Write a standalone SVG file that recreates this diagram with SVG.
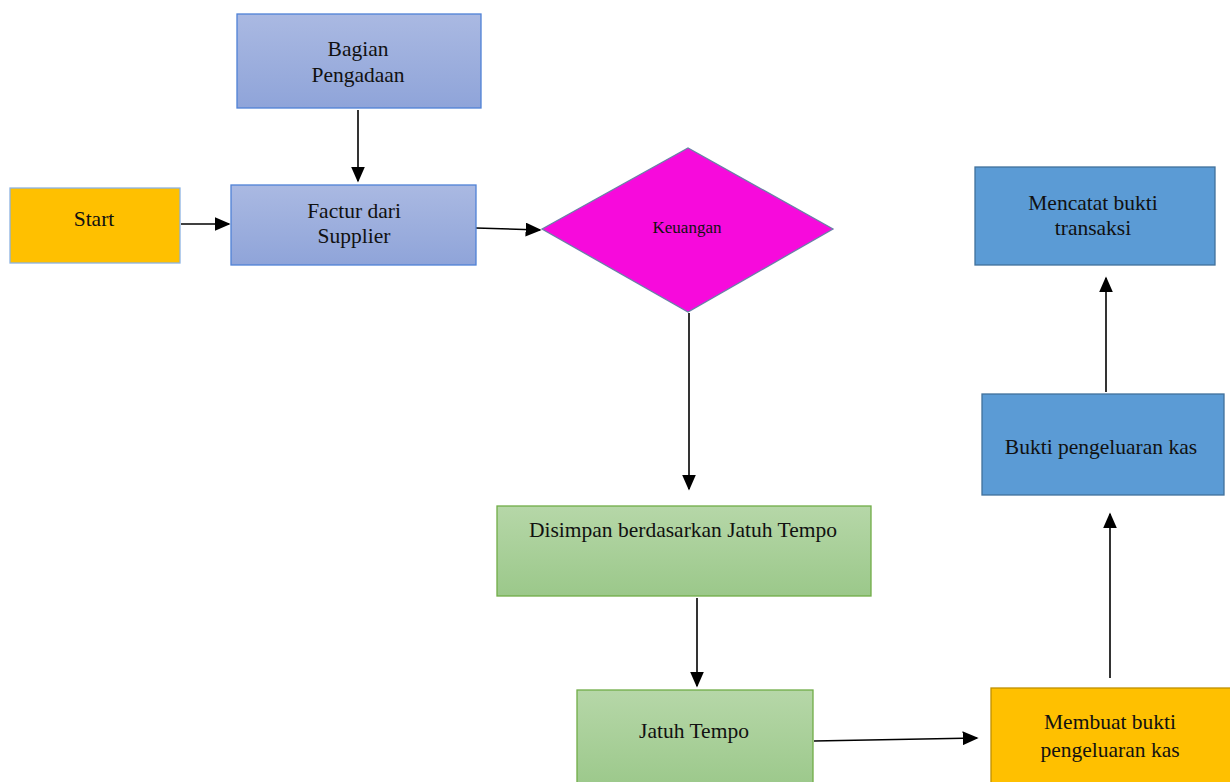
<svg xmlns="http://www.w3.org/2000/svg" width="1230" height="782" viewBox="0 0 1230 782">
<style>
text{font-family:"Liberation Serif","Times New Roman",serif;font-size:21.5px;fill:#111;text-anchor:middle}
.con{stroke:#000;stroke-width:1.6;fill:none;marker-end:url(#ah)}
</style>
<defs>
<marker id="ah" viewBox="0 0 10 10" refX="9" refY="5" markerWidth="16" markerHeight="14" markerUnits="userSpaceOnUse" orient="auto" preserveAspectRatio="none">
<path d="M0,0 L10,5 L0,10 z" fill="#000"/>
</marker>
<linearGradient id="gb" x1="0" y1="0" x2="0" y2="1"><stop offset="0" stop-color="#aab9e2"/><stop offset="1" stop-color="#8fa4d9"/></linearGradient>
<linearGradient id="gg" x1="0" y1="0" x2="0" y2="1"><stop offset="0" stop-color="#b6d7a8"/><stop offset="1" stop-color="#9bc88a"/></linearGradient>
</defs>
<rect width="1230" height="782" fill="#fff"/>
<g id="connectors">
<line class="con" x1="358" y1="110" x2="358" y2="181"/>
<line class="con" x1="181" y1="224" x2="229" y2="224"/>
<line class="con" x1="476" y1="228" x2="540" y2="230"/>
<line class="con" x1="689" y1="313" x2="689" y2="489"/>
<line class="con" x1="697" y1="598" x2="697" y2="686"/>
<line class="con" x1="814" y1="741" x2="977" y2="738"/>
<line class="con" x1="1110" y1="678" x2="1110" y2="514"/>
<line class="con" x1="1106" y1="392" x2="1106" y2="278"/>
</g>
<g id="bagian">
<rect x="237" y="14" width="244" height="94" fill="url(#gb)" stroke="#4f81d6" stroke-width="1.3"/>
<text x="358" y="56">Bagian</text>
<text x="358" y="82">Pengadaan</text>
</g>
<g id="start">
<rect x="10" y="188" width="170" height="75" fill="#ffc000" stroke="#8db3e2" stroke-width="1.3"/>
<text x="94" y="226">Start</text>
</g>
<g id="factur">
<rect x="231" y="185" width="245" height="80" fill="url(#gb)" stroke="#4f81d6" stroke-width="1.3"/>
<text x="354" y="218">Factur dari</text>
<text x="354" y="243">Supplier</text>
</g>
<g id="keuangan">
<polygon points="542,229 688,148 833,229 688,312" fill="#f70adc" stroke="#6b7fa8" stroke-width="1.3"/>
<text x="687" y="233" style="font-size:17px">Keuangan</text>
</g>
<g id="disimpan">
<rect x="497" y="506" width="374" height="90" fill="url(#gg)" stroke="#70ad47" stroke-width="1.3"/>
<text x="683" y="537">Disimpan berdasarkan Jatuh Tempo</text>
</g>
<g id="jatuh">
<rect x="577" y="690" width="236" height="100" fill="url(#gg)" stroke="#70ad47" stroke-width="1.3"/>
<text x="694" y="738">Jatuh Tempo</text>
</g>
<g id="membuat">
<rect x="991" y="688" width="242" height="100" fill="#ffc000" stroke="#bf9000" stroke-width="1.3"/>
<text x="1110" y="729">Membuat bukti</text>
<text x="1110" y="757">pengeluaran kas</text>
</g>
<g id="bukti">
<rect x="982" y="394" width="242" height="101" fill="#5b9bd5" stroke="#41719c" stroke-width="1.3"/>
<text x="1101" y="454">Bukti pengeluaran kas</text>
</g>
<g id="mencatat">
<rect x="975" y="167" width="240" height="98" fill="#5b9bd5" stroke="#41719c" stroke-width="1.3"/>
<text x="1093" y="210">Mencatat bukti</text>
<text x="1093" y="235">transaksi</text>
</g>
</svg>
